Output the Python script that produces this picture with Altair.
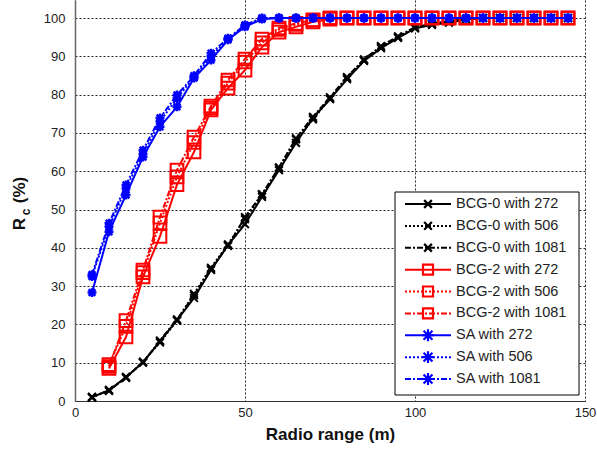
import altair as alt
import pandas as pd

# ---------------- data ----------------
X = [5, 10, 15, 20, 25, 30, 35, 40, 45, 50, 55, 60, 65, 70, 75, 80, 85, 90, 95,
     100, 105, 110, 115, 120, 125, 130, 135, 140, 145]
X_RED = X[1:]

bcg0_272 = [1.0, 2.8, 6.2, 10.1, 15.6, 21.1, 26.9, 34.2, 40.7, 46.2, 53.3, 60.3, 67.4, 73.9,
            78.8, 84.0, 88.8, 92.1, 94.8, 97.3, 98.2, 98.8, 99.6, 100, 100, 100, 100, 100, 100]
bcg0_506 = [0.9, 2.9, 6.0, 10.3, 15.3, 21.0, 28.0, 34.8, 40.9, 47.5, 53.8, 60.8, 68.3, 73.5,
            79.0, 84.3, 89.0, 92.4, 95.0, 97.5, 98.4, 99.0, 99.7, 100, 100, 100, 100, 100, 100]
bcg0_1081 = [1.1, 2.6, 6.3, 10.0, 15.8, 21.3, 27.6, 34.5, 40.5, 48.0, 54.0, 61.0, 68.6, 74.2,
             79.3, 84.6, 89.2, 92.7, 95.2, 97.6, 98.5, 99.2, 99.8, 100, 100, 100, 100, 100, 100]

bcg2_272 = [8.5, 16.7, 32.4, 43.0, 56.5, 65.0, 76.0, 81.7, 86.4, 92.4, 96.3, 97.7, 99.0, 99.7,
            100, 100, 100, 100, 100, 100, 100, 100, 100, 100, 100, 100, 100, 100]
bcg2_506 = [9.5, 19.5, 33.5, 46.5, 58.5, 67.5, 76.5, 83.0, 88.5, 93.5, 97.0, 98.3, 99.4, 100,
            100, 100, 100, 100, 100, 100, 100, 100, 100, 100, 100, 100, 100, 100]
bcg2_1081 = [9.0, 21.0, 34.2, 48.0, 60.3, 68.9, 77.0, 83.8, 89.3, 94.5, 97.4, 98.6, 99.5, 100,
             100, 100, 100, 100, 100, 100, 100, 100, 100, 100, 100, 100, 100, 100]

sa_272 = [28.3, 44.2, 53.8, 63.7, 71.6, 76.8, 84.3, 89.0, 94.3, 97.7, 99.7, 100, 100, 100, 100,
          100, 100, 100, 100, 100, 100, 100, 100, 100, 100, 100, 100, 100, 100]
sa_506 = [32.5, 45.5, 55.5, 64.5, 73.0, 79.0, 84.6, 90.0, 94.5, 98.0, 99.9, 100, 100, 100, 100,
          100, 100, 100, 100, 100, 100, 100, 100, 100, 100, 100, 100, 100, 100]
sa_1081 = [33.0, 46.4, 56.4, 65.5, 73.9, 79.9, 84.9, 90.8, 94.7, 98.2, 100, 100, 100, 100, 100,
           100, 100, 100, 100, 100, 100, 100, 100, 100, 100, 100, 100, 100, 100]

ALGOS = ["BCG-0", "BCG-2", "SA"]
NS = ["272", "506", "1081"]
COLORS = ["black", "#ff0000", "#0000ff"]
X_TICKS = [0, 50, 100, 150]
Y_TICKS = [0, 10, 20, 30, 40, 50, 60, 70, 80, 90, 100]

series = [
    ("BCG-0", "272", X, bcg0_272), ("BCG-0", "506", X, bcg0_506), ("BCG-0", "1081", X, bcg0_1081),
    ("BCG-2", "272", X_RED, bcg2_272), ("BCG-2", "506", X_RED, bcg2_506), ("BCG-2", "1081", X_RED, bcg2_1081),
    ("SA", "272", X, sa_272), ("SA", "506", X, sa_506), ("SA", "1081", X, sa_1081),
]

records = []
for algo, n, xs, ys in series:
    for xv, yv in zip(xs, ys):
        records.append({"x": xv, "y": yv, "algo": algo, "n": n})
df = pd.DataFrame(records)

leg = pd.DataFrame([{"row": i, "algo": a, "n": n, "label": f"{a} with {n}"}
                    for i, (a, n, _, _) in enumerate(series)])

# ---------------- styling ----------------
FONT = "Liberation Sans"
X_PATH = "M-1,-1L1,1M-1,1L1,-1"
AST_PATH = "M-1,0L1,0M0,-1L0,1M-0.75,-0.75L0.75,0.75M-0.75,0.75L0.75,-0.75"
SHAPES = [X_PATH, "square", AST_PATH]
SIZES = [60, 160, 80]
STROKES = [2, 2, 2.5]
DASHES = [[1, 0], [2, 2], [6, 2, 2, 2]]

color_scale = alt.Scale(domain=ALGOS, range=COLORS)
shape_scale = alt.Scale(domain=ALGOS, range=SHAPES)
size_scale = alt.Scale(domain=ALGOS, range=[60, 140, 80])
dash_scale = alt.Scale(domain=NS, range=DASHES)

W, H = 510, 401

xenc = alt.X("x:Q", scale=alt.Scale(domain=[0, 150], nice=False),
             axis=alt.Axis(values=X_TICKS, title="Radio range (m)", grid=True,
                           gridDash=[2, 2], gridColor="#000000", gridOpacity=0.85,
                           ticks=False, labelPadding=5, labelFont=FONT, labelFontSize=13,
                           labelColor="#222222", domainColor="#333333",
                           titleFont=FONT, titleFontSize=17, titleFontWeight="bold",
                           titleColor="#111111", titlePadding=7, labelFlush=False))
yenc = alt.Y("y:Q", scale=alt.Scale(domain=[0, 104.7], nice=False),
             axis=alt.Axis(values=Y_TICKS, title=None, grid=True,
                           gridDash=[2, 2], gridColor="#000000", gridOpacity=0.85,
                           ticks=False, labelPadding=10, labelFont=FONT, labelFontSize=13,
                           labelColor="#222222", domainColor="#666666", domainWidth=1.5,
                           labelFlush=False))

layers = []
for algo, col, shp, sz, sw in zip(ALGOS, COLORS, SHAPES, SIZES, STROKES):
    d = df[df["algo"] == algo]
    line = alt.Chart(d).mark_line(strokeWidth=2, color=col).encode(
        x=xenc, y=yenc,
        strokeDash=alt.StrokeDash("n:N", scale=dash_scale, legend=None),
        order="x:Q",
    )
    pts = alt.Chart(d).mark_point(shape=shp, size=sz, filled=False, strokeWidth=sw,
                                  color=col, opacity=1).encode(x="x:Q", y="y:Q")
    layers += [line, pts]

main = alt.layer(*layers)

# ---------------- legend ----------------
ly = alt.Y("row:Q", scale=alt.Scale(domain=[0, 8], range=[204, 379]), axis=None)
box = alt.Chart(pd.DataFrame({"a": [0]})).mark_rect(
    fill="white", stroke="black", strokeWidth=1).encode(
    x=alt.value(320), x2=alt.value(504), y=alt.value(192), y2=alt.value(395))
leg_line = alt.Chart(leg).mark_rule(strokeWidth=2).encode(
    x=alt.value(330), x2=alt.value(376), y=ly,
    color=alt.Color("algo:N", scale=color_scale, legend=None),
    strokeDash=alt.StrokeDash("n:N", scale=dash_scale, legend=None))
leg_pt = alt.Chart(leg).mark_point(filled=False, strokeWidth=2.2, opacity=1).encode(
    x=alt.value(353), y=ly,
    color=alt.Color("algo:N", scale=color_scale, legend=None),
    shape=alt.Shape("algo:N", scale=shape_scale, legend=None),
    size=alt.Size("algo:N", scale=size_scale, legend=None))
leg_txt = alt.Chart(leg).mark_text(align="left", baseline="middle", font=FONT,
                                   fontSize=14.5, color="#222222").encode(
    x=alt.value(381), y=ly, text="label:N")
legend = alt.layer(box, leg_line, leg_pt, leg_txt)

# ---------------- y title (R subscript c) ----------------
ytitle_df = pd.DataFrame({"t": ["R"]})
yt1 = alt.Chart(ytitle_df).mark_text(angle=270, font=FONT, fontSize=17, fontWeight="bold",
                                     align="center", baseline="middle", color="#111111").encode(
    x=alt.value(-55), y=alt.value(224), text=alt.value("R"))
yt2 = alt.Chart(ytitle_df).mark_text(angle=270, font=FONT, fontSize=12, fontWeight="bold",
                                     align="center", baseline="middle", color="#111111").encode(
    x=alt.value(-49), y=alt.value(212), text=alt.value("c"))
yt3 = alt.Chart(ytitle_df).mark_text(angle=270, font=FONT, fontSize=17, fontWeight="bold",
                                     align="center", baseline="middle", color="#111111").encode(
    x=alt.value(-55), y=alt.value(190), text=alt.value("(%)"))
ytitle = alt.layer(yt1, yt2, yt3)

chart = alt.layer(main, legend, ytitle).resolve_scale(
    x="independent", y="independent", color="independent",
    strokeDash="independent", shape="independent", size="independent"
).properties(
    width=W, height=H,
    autosize=alt.AutoSizeParams(type="none"),
    padding={"left": 75, "top": 0, "right": 12, "bottom": 50},
    background="white",
).configure_view(stroke=None)

chart.save("out.html", embed_options={"renderer": "svg", "actions": False})
